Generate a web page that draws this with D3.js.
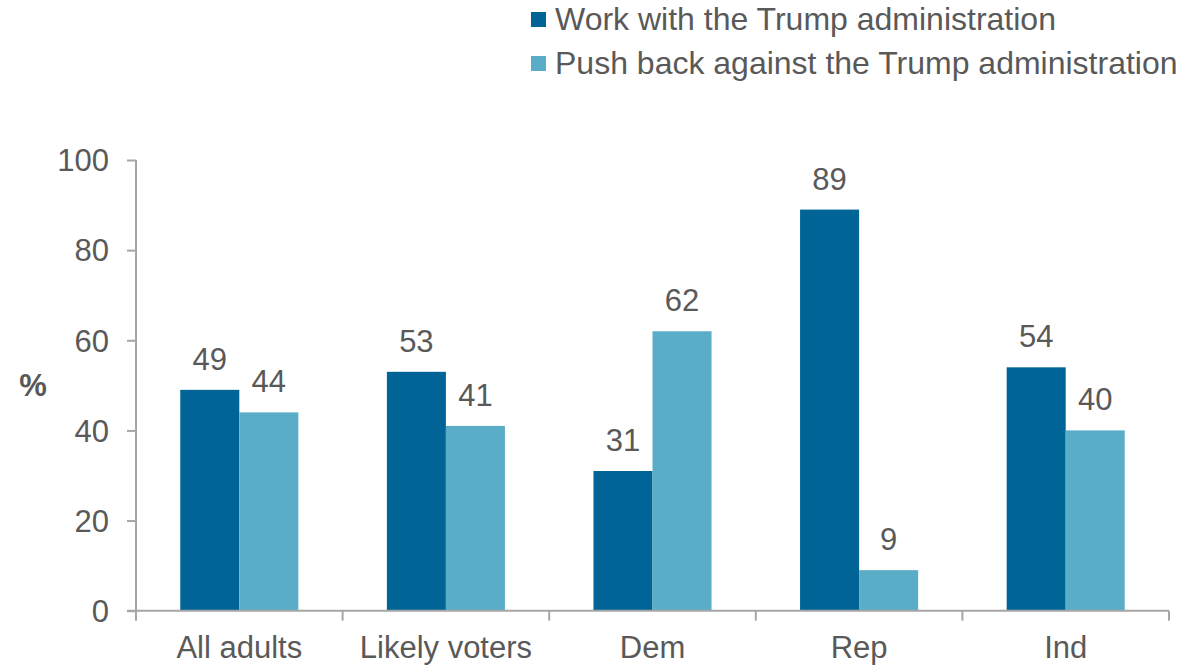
<!DOCTYPE html>
<html>
<head>
<meta charset="utf-8">
<script src="https://cdn.jsdelivr.net/npm/d3@7"></script>
<style>
  html, body { margin: 0; padding: 0; background: #fff; }
  svg { display: block; font-family: "Liberation Sans", Arial, sans-serif; }
</style>
</head>
<body>
<svg id="chart" width="1188" height="667"></svg>
<script>
const categories = ["All adults", "Likely voters", "Dem", "Rep", "Ind"];
const seriesNames = ["Work with the Trump administration", "Push back against the Trump administration"];
const workValues = [49, 53, 31, 89, 54];
const pushValues = [44, 41, 62, 9, 40];
const yTicks = [0, 20, 40, 60, 80, 100];
const colors = ["#006496", "#5aadc6"];

(function () {
const svg = d3.select("#chart");
const mLeft = 136, mRight = 1169, mTop = 160, mBottom = 610.7;
const textColor = "#595959";
const axisColor = "#a6a6a6";
const fs = 31;

const x0 = d3.scaleBand().domain(categories).range([mLeft, mRight]).padding(0);
const x1 = d3.scaleBand().domain([0, 1]).range([0, x0.bandwidth()]).paddingInner(0).paddingOuter(0.75);
const y = d3.scaleLinear().domain([0, 100]).range([mBottom, mTop]);

const series = [workValues, pushValues];

// bars
const groups = svg.append("g").selectAll("g")
  .data(categories)
  .join("g")
  .attr("transform", d => `translate(${x0(d)},0)`);

groups.selectAll("rect")
  .data((d, i) => series.map((s, k) => ({k, v: s[i]})))
  .join("rect")
  .attr("x", d => x1(d.k))
  .attr("width", x1.bandwidth())
  .attr("y", d => y(d.v))
  .attr("height", d => y(0) - y(d.v))
  .attr("fill", d => colors[d.k]);

groups.selectAll("text")
  .data((d, i) => series.map((s, k) => ({k, v: s[i]})))
  .join("text")
  .attr("x", d => x1(d.k) + x1.bandwidth() / 2)
  .attr("y", d => y(d.v) - 20)
  .attr("text-anchor", "middle")
  .attr("font-size", fs)
  .attr("fill", textColor)
  .text(d => d.v);

// y axis
const yAxis = svg.append("g")
  .attr("transform", `translate(${mLeft},0)`)
  .call(d3.axisLeft(y).tickValues(yTicks).tickSize(9).tickPadding(18).tickSizeOuter(0));
yAxis.select(".domain").attr("stroke", axisColor).attr("stroke-width", 2)
  .attr("d", `M0,${mTop}V${mBottom + 5}`);
yAxis.selectAll(".tick line").attr("stroke", axisColor).attr("stroke-width", 2);
yAxis.selectAll(".tick text").attr("font-size", fs).attr("fill", textColor)
  .attr("font-family", "Liberation Sans, Arial, sans-serif").attr("dy", "0.35em");

// x axis
const xAxis = svg.append("g")
  .attr("transform", `translate(0,${mBottom})`)
  .call(d3.axisBottom(x0).tickSize(0).tickPadding(25).tickSizeOuter(0));
xAxis.select(".domain").attr("stroke", axisColor).attr("stroke-width", 2)
  .attr("d", `M${mLeft - 9},0H${mRight}`);
xAxis.selectAll(".tick text").attr("font-size", fs).attr("fill", textColor)
  .attr("font-family", "Liberation Sans, Arial, sans-serif").attr("dy", "0.71em");
// category separator ticks
const boundaries = categories.map(c => x0(c)).concat([x0.range()[1]]);
xAxis.selectAll(".sep")
  .data(boundaries)
  .join("line")
  .attr("class", "sep")
  .attr("x1", d => d).attr("x2", d => d)
  .attr("y1", 0).attr("y2", 10)
  .attr("stroke", axisColor).attr("stroke-width", 2);

// y label
svg.append("text")
  .attr("x", 33).attr("y", 396)
  .attr("text-anchor", "middle")
  .attr("font-size", fs).attr("font-weight", "bold")
  .attr("fill", textColor)
  .text("%");

// legend
const legend = svg.append("g").selectAll("g")
  .data(seriesNames)
  .join("g")
  .attr("transform", (d, i) => `translate(531,${12 + i * 44})`);
legend.append("rect").attr("width", 15).attr("height", 15).attr("fill", (d, i) => colors[i]);
legend.append("text")
  .attr("x", 24).attr("y", 18)
  .attr("font-size", 32).attr("fill", textColor)
  .text(d => d);
})();
</script>
</body>
</html>
